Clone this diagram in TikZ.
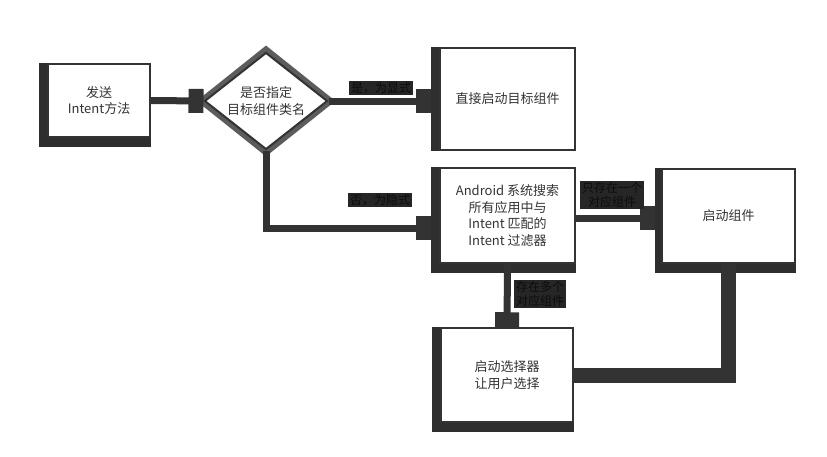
\documentclass[tikz,border=0pt]{standalone}
\usepackage{fontspec}
\setmainfont{Noto Sans CJK SC}
\usetikzlibrary{shapes.geometric,arrows.meta,backgrounds}
\definecolor{ink}{HTML}{333333}
\definecolor{shadowgray}{HTML}{2E2E2E}
\definecolor{tagbg}{HTML}{262626}
\definecolor{tagtext}{HTML}{0C0C0C}
\tikzset{
  flowbox/.style={draw=ink, line width=1.5pt, fill=white, inner sep=0pt,
    align=center, text=ink, font=\fontsize{13pt}{16.5pt}\selectfont},
  decision/.style={diamond, draw=ink, line width=2pt, fill=white, inner sep=0pt},
  plaintext/.style={inner sep=0pt, align=center, text=ink, font=\fontsize{13pt}{16.5pt}\selectfont},
  conn/.style={draw=ink, line width=7pt},
  blocktip/.style={-{Rectangle[length=15pt,width=24pt]}},
  tag/.style={fill=tagbg, text=tagtext, inner xsep=2pt, inner ysep=1.5pt,
    align=center, font=\fontsize{12pt}{14pt}\selectfont}
}
\newcommand\castshadow[1]{\fill[shadowgray] ([xshift=-8pt]#1.north west) rectangle ([yshift=-9pt]#1.south east);}
\begin{document}
\begin{tikzpicture}[x=1pt,y=-1pt]
\useasboundingbox (0,0) rectangle (827,456);

% boxes
\node[flowbox, minimum width=102pt, minimum height=73pt] (send) at (99,100.5) {发送\\Intent方法};
\node[decision, minimum width=123pt, minimum height=97pt] (dec) at (266,101) {};
\node[plaintext] (dectext) at (dec) {是否指定\\目标组件类名};
\node[flowbox, minimum width=135pt, minimum height=102pt] (direct) at (507.5,99) {直接启动目标组件};
\node[flowbox, minimum width=135pt, minimum height=95pt] (search) at (507.5,215.5)
  {Android 系统搜索\\所有应用中与\\Intent 匹配的\\Intent 过滤器};
\node[flowbox, minimum width=133pt, minimum height=94pt] (launch) at (728.5,216) {启动组件};
\node[flowbox, minimum width=132pt, minimum height=94pt] (chooser) at (507,375) {启动选择器\\让用户选择};

% shadows behind the shapes
\begin{scope}[on background layer]
  \fill[white] (0,0) rectangle (827,456);
  \castshadow{send}
  \fill[shadowgray] ([xshift=-8pt]direct.north west) rectangle (direct.south west);
  \castshadow{search}
  \fill[shadowgray] ([xshift=-6pt]launch.north west) rectangle ([yshift=-9pt]launch.south east);
  \castshadow{chooser}
  \node[diamond, fill=ink!80, inner sep=0pt, minimum width=139pt, minimum height=111pt] (decshadow) at (dec) {};
\end{scope}

% connectors
\draw[conn, blocktip] (send.east) -- (dec.west);
\draw[conn, blocktip, shorten >=8pt] (dec.east) -- (dec.east -| direct.west);
\draw[conn, blocktip, shorten >=8pt] (dec.south) |- ([yshift=-12.5pt]search.west);
\draw[conn, blocktip, shorten >=6pt] ([yshift=-2.5pt]search.east) -- ([yshift=-2.5pt]search.east -| launch.west);
\draw[conn, blocktip] (search.south) -- (chooser.north);
\draw[draw=ink, line width=15pt] (launch.south) |- (chooser.east);

% connector labels
\node[tag] (yes) at (381,88) {是，为显式};
\node[tag] (no) at (380,200) {否，为隐式};
\node[tag] (one) at (612,195) {只存在一个\\对应组件};
\node[tag] (many) at (540,294) {存在多个\\对应组件};
\end{tikzpicture}
\end{document}
